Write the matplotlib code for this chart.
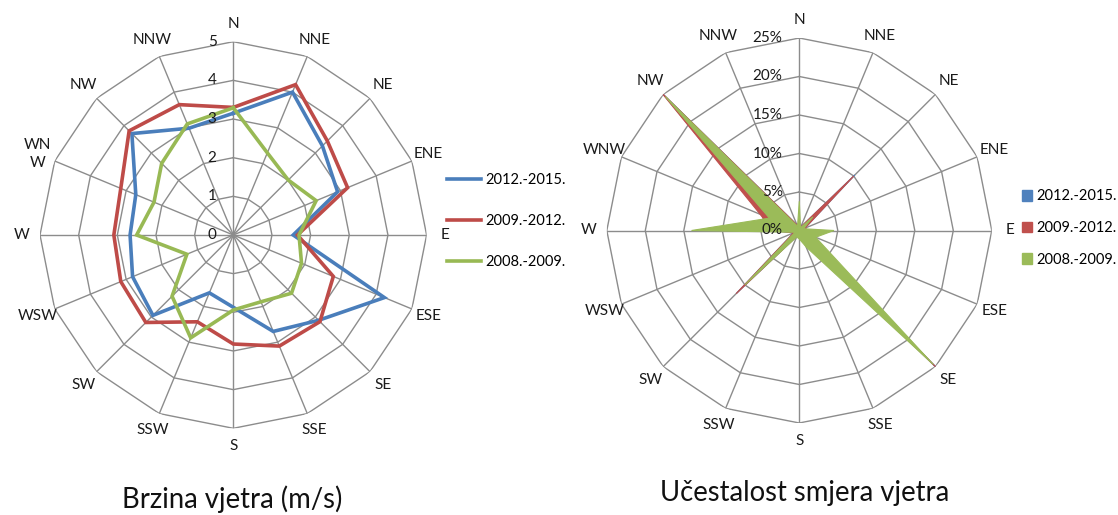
import numpy as np
import matplotlib
matplotlib.use("Agg")
import matplotlib.pyplot as plt
from matplotlib.patches import Patch

plt.rcParams['font.family'] = ['Lato', 'DejaVu Sans']

# ---------------- data ----------------
directions = ['N', 'NNE', 'NE', 'ENE', 'E', 'ESE', 'SE', 'SSE',
              'S', 'SSW', 'SW', 'WSW', 'W', 'WNW', 'NW', 'NNW']
speed_labels = ['N', 'NNE', 'NE', 'ENE', 'E', 'ESE', 'SE', 'SSE',
                'S', 'SSW', 'SW', 'WSW', 'W', 'WN\nW', 'NW', 'NNW']
series_names = ['2012.-2015.', '2009.-2012.', '2008.-2009.']

# wind speed (m/s)
speed_2012_2015 = [3.15, 4.00, 3.26, 2.92, 1.55, 4.23, 3.12, 2.70,
                   1.87, 1.62, 2.94, 2.82, 2.67, 2.73, 3.71, 2.99]
speed_2009_2012 = [3.30, 4.21, 3.44, 3.20, 1.66, 2.80, 3.17, 3.11,
                   2.82, 2.43, 3.20, 3.15, 3.09, 3.15, 3.81, 3.65]
speed_2008_2009 = [3.29, 2.30, 2.01, 2.32, 1.70, 1.91, 2.13, 1.87,
                   1.94, 2.88, 2.24, 1.30, 2.50, 2.22, 2.62, 3.11]
speed_ticks = [0, 1, 2, 3, 4, 5]

# direction frequency (%)
freq_2012_2015 = [1.0, 0.5, 10.2, 0.8, 1.0, 1.0, 25.0, 1.0,
                  0.5, 0.8, 11.5, 0.8, 3.5, 5.0, 25.0, 0.8]
freq_2009_2012 = [1.0, 0.5, 10.0, 0.8, 1.2, 1.0, 25.2, 1.0,
                  0.5, 0.8, 11.6, 0.8, 3.5, 5.5, 25.2, 0.8]
freq_2008_2009 = [3.8, 0.4, 2.5, 0.6, 4.5, 2.3, 24.6, 2.3,
                  1.1, 0.9, 10.0, 0.6, 14.0, 4.2, 24.6, 0.6]
freq_ticks = [0, 5, 10, 15, 20, 25]

line_colors = ['#4A7EBB', '#BE4B48', '#98B954']
fill_colors = ['#4F81BD', '#C0504D', '#9BBB59']
grid_color = '#8C8C8C'
text_color = '#1a1a1a'

W, H = 1118, 515
fig = plt.figure(figsize=(W / 100, H / 100), dpi=100)

n = len(directions)
angles = np.arange(n) * 2 * np.pi / n
ang_c = np.append(angles, angles[0])


def make_axes(cx, cy, r):
    ax = fig.add_axes([(cx - r) / W, (H - cy - r) / H, 2 * r / W, 2 * r / H],
                      projection='polar')
    ax.set_theta_zero_location('N')
    ax.set_theta_direction(-1)
    ax.grid(False)
    ax.spines['polar'].set_visible(False)
    ax.set_xticks([])
    ax.set_yticks([])
    return ax


def draw_grid(ax, ticks, tick_fmt, label_r, labels):
    rmax = ticks[-1]
    ax.set_ylim(0, rmax)
    for v in ticks[1:]:
        ax.plot(ang_c, [v] * (n + 1), color=grid_color, lw=1.0, zorder=1)
    for a in angles:
        ax.plot([a, a], [0, rmax], color=grid_color, lw=1.0, zorder=1)
    for v in ticks:
        ax.annotate(tick_fmt(v), xy=(0, v), xytext=(-12, 0),
                    textcoords='offset points', ha='right', va='center',
                    fontsize=11, color=text_color, zorder=5)
    for a, lab in zip(angles, labels):
        ax.text(a, label_r, lab, ha='center', va='center', fontsize=11,
                color=text_color, linespacing=1.4)


# ---------------- left: wind speed ----------------
ax1 = make_axes(233.3, 235.0, 193.3)
draw_grid(ax1, speed_ticks, lambda v: f'{v}', 5.47, speed_labels)
for vals, col, name in zip([speed_2012_2015, speed_2009_2012, speed_2008_2009],
                           line_colors, series_names):
    ax1.plot(ang_c, vals + vals[:1], color=col, lw=2.6, zorder=3,
             solid_joinstyle='miter', label=name)
ax1.legend(loc='center left', bbox_to_anchor=(447 / W, (H - 221) / H),
           bbox_transform=fig.transFigure, frameon=False, fontsize=10.5,
           handlelength=2.35, handletextpad=0.25, labelspacing=1.85,
           borderpad=0, borderaxespad=0)

# ---------------- right: direction frequency ----------------
ax2 = make_axes(799.3, 230.5, 192.5)
draw_grid(ax2, freq_ticks, lambda v: f'{v}%', 27.4, directions)
for i, (vals, col) in enumerate(zip([freq_2012_2015, freq_2009_2012, freq_2008_2009],
                                    fill_colors)):
    ax2.fill(ang_c, vals + vals[:1], facecolor=col, edgecolor=col, lw=0.8,
             zorder=2 + i)
handles = [Patch(facecolor=c, edgecolor=c) for c in fill_colors]
ax2.legend(handles, series_names, loc='center left',
           bbox_to_anchor=(1022 / W, (H - 228) / H),
           bbox_transform=fig.transFigure, frameon=False, fontsize=10.5,
           handlelength=0.7, handleheight=0.7, handletextpad=0.25,
           labelspacing=1.2, borderpad=0, borderaxespad=0)

# ---------------- titles ----------------
fig.text(232.5 / W, (H - 499) / H, 'Brzina vjetra (m/s)', ha='center',
         va='center', fontsize=19.8, color='#111111')
fig.text(805 / W, (H - 493) / H, 'Učestalost smjera vjetra', ha='center',
         va='center', fontsize=19.8, color='#111111')

fig.savefig('out.png', dpi=100, facecolor='white')
